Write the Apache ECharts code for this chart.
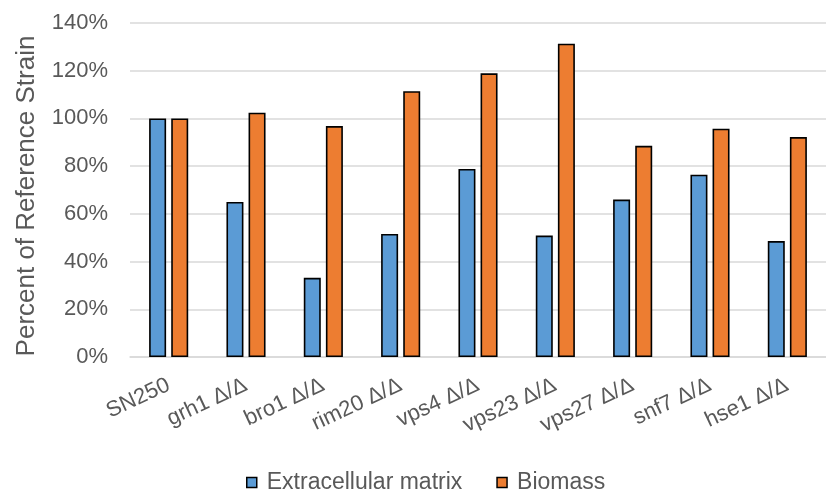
<!DOCTYPE html>
<html>
<head>
<meta charset="utf-8">
<script src="https://cdn.jsdelivr.net/npm/echarts@6/dist/echarts.min.js"></script>
<style>
  html, body { margin: 0; padding: 0; background: #fff; }
  #chart { width: 826px; height: 493px; }
</style>
</head>
<body>
<div id="chart"></div>
<script>
// Strains compared against the SN250 reference
const strains = ['SN250', 'grh1 Δ/Δ', 'bro1 Δ/Δ', 'rim20 Δ/Δ', 'vps4 Δ/Δ',
                 'vps23 Δ/Δ', 'vps27 Δ/Δ', 'snf7 Δ/Δ', 'hse1 Δ/Δ'];

// Percent of the reference strain
const matrixPct  = [100, 65.0, 33.2, 51.6, 78.8, 50.9, 66.0, 76.4, 48.6];
const biomassPct = [100, 102.4, 96.8, 111.4, 118.9, 131.3, 88.5, 95.7, 92.2];

const yTicks = [0, 20, 40, 60, 80, 100, 120, 140];

const textColor = '#595959';
const font = 'Liberation Sans, Arial, sans-serif';

const chart = echarts.init(document.getElementById('chart'), null, { renderer: 'canvas' });

chart.setOption({
  animation: false,
  backgroundColor: '#ffffff',
  grid: { left: 130, top: 23, width: 706, height: 334, containLabel: false },
  legend: {
    bottom: -6,
    left: 241,
    itemWidth: 10,
    itemHeight: 10,
    itemGap: 34,
    icon: 'rect',
    textStyle: { color: textColor, fontSize: 23, fontFamily: font, padding: [0, 0, 0, 5] },
    data: [
      { name: 'Extracellular matrix', itemStyle: { borderColor: '#000', borderWidth: 1.5 } },
      { name: 'Biomass', itemStyle: { borderColor: '#000', borderWidth: 1.5 } }
    ]
  },
  xAxis: {
    type: 'category',
    data: strains,
    axisLine: { show: true, lineStyle: { color: '#d9d9d9', width: 1.5 } },
    axisTick: { show: false },
    axisLabel: {
      rotate: 25,
      interval: 0,
      margin: 27,
      color: textColor,
      fontSize: 22,
      fontFamily: font
    }
  },
  yAxis: {
    type: 'value',
    min: yTicks[0],
    max: yTicks[yTicks.length - 1],
    interval: 20,
    name: 'Percent of Reference Strain',
    nameLocation: 'middle',
    nameGap: 90,
    nameTextStyle: { color: textColor, fontSize: 26, fontFamily: font, padding: [0, 12, 0, 0] },
    axisLine: { show: false },
    axisTick: { show: false },
    splitLine: { lineStyle: { color: '#d9d9d9', width: 1.5 } },
    axisLabel: {
      margin: 22,
      color: textColor,
      fontSize: 22,
      fontFamily: font,
      formatter: v => v + '%'
    }
  },
  series: [
    {
      name: 'Extracellular matrix',
      type: 'bar',
      data: matrixPct,
      barWidth: 17,
      barGap: '30%',
      itemStyle: { color: '#5b9bd5', borderColor: '#000', borderWidth: 1.6 }
    },
    {
      name: 'Biomass',
      type: 'bar',
      data: biomassPct,
      barWidth: 17,
      barGap: '30%',
      itemStyle: { color: '#ed7d31', borderColor: '#000', borderWidth: 1.6 }
    }
  ]
});
</script>
</body>
</html>
